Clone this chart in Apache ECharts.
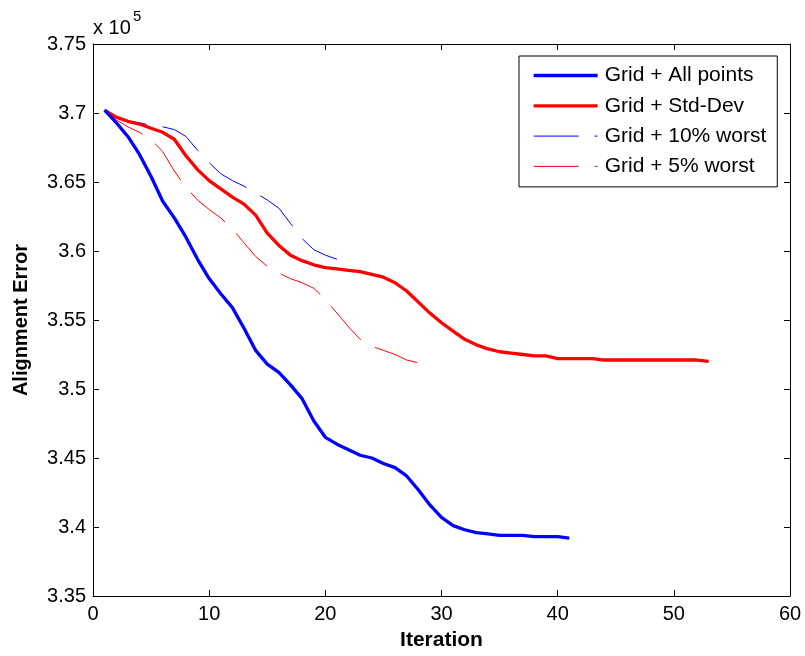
<!DOCTYPE html>
<html><head><meta charset="utf-8">
<script src="https://cdn.jsdelivr.net/npm/echarts@6/dist/echarts.min.js"></script>
<style>html,body{margin:0;padding:0;background:#fff}#c{width:805px;height:656px}</style>
</head><body><div id="c"></div>
<script>
// Values in units of 1e5 (as shown with the "x 10^5" multiplier)
const seriesNames = ['Grid + All points', 'Grid + Std-Dev', 'Grid + 10% worst', 'Grid + 5% worst'];
const xTicks = [0, 10, 20, 30, 40, 50, 60];
const yTicks = [3.35, 3.4, 3.45, 3.5, 3.55, 3.6, 3.65, 3.7, 3.75];

// Iterations start at 1
const allPoints = [3.702, 3.693, 3.683, 3.670, 3.654, 3.636, 3.624, 3.610, 3.594, 3.580,
  3.569, 3.559, 3.544, 3.528, 3.518, 3.512, 3.503, 3.493, 3.477, 3.465,
  3.460, 3.456, 3.452, 3.450, 3.446, 3.443, 3.437, 3.427, 3.416, 3.407,
  3.401, 3.398, 3.396, 3.395, 3.394, 3.394, 3.394, 3.393, 3.393, 3.393, 3.392];
const stdDev = [3.702, 3.697, 3.694, 3.692, 3.689, 3.686, 3.681, 3.669, 3.659, 3.651,
  3.645, 3.639, 3.634, 3.626, 3.613, 3.604, 3.597, 3.593, 3.590, 3.588,
  3.587, 3.586, 3.585, 3.583, 3.581, 3.577, 3.571, 3.563, 3.555, 3.548,
  3.542, 3.536, 3.532, 3.529, 3.527, 3.526, 3.525, 3.524, 3.524, 3.522,
  3.522, 3.522, 3.522, 3.521, 3.521, 3.521, 3.521, 3.521, 3.521, 3.521,
  3.521, 3.521, 3.520];
const worst10 = [3.702, 3.697, 3.694, 3.693, 3.691, 3.690, 3.688, 3.683, 3.673, 3.664,
  3.656, 3.651, 3.647, 3.642, 3.637, 3.631, 3.620, 3.609, 3.601, 3.597, 3.594];
const worst5 = [3.702, 3.695, 3.690, 3.686, 3.681, 3.672, 3.658, 3.646, 3.637, 3.630,
  3.624, 3.616, 3.606, 3.596, 3.589, 3.584, 3.580, 3.577, 3.573, 3.565,
  3.555, 3.545, 3.536, 3.531, 3.528, 3.525, 3.521, 3.519];

const FONT = '"Liberation Sans", Arial, Helvetica, sans-serif';
const toPairs = arr => arr.map((v, i) => [i + 1, v]);
const yFmt = v => String(parseFloat(Number(v).toFixed(2)));

const axisLine = { show: true, onZero: false, lineStyle: { color: '#000', width: 1 } };
const axisTick = { show: true, inside: true, length: 6, lineStyle: { color: '#000', width: 1 } };

const xBase = { type: 'value', min: xTicks[0], max: xTicks[xTicks.length - 1], interval: 10,
  axisLine, axisTick, splitLine: { show: false } };
const yBase = { type: 'value', min: yTicks[0], max: yTicks[yTicks.length - 1], interval: 0.05,
  axisLine, axisTick, splitLine: { show: false } };

const styles = [
  { color: '#0000ff', width: 3.3, type: 'solid' },
  { color: '#ff0000', width: 3.3, type: 'solid' },
  { color: '#0000ff', width: 1, type: [45, 16] },
  { color: '#ff0000', width: 1, type: [45, 16] }
];
const seriesData = [allPoints, stdDev, worst10, worst5];

const chart = echarts.init(document.getElementById('c'), null, { renderer: 'canvas' });
chart.setOption({
  animation: false,
  backgroundColor: '#fff',
  textStyle: { fontFamily: FONT },
  grid: { left: 93, right: 15, top: 44, bottom: 60, containLabel: false },
  xAxis: [
    Object.assign({}, xBase, {
      position: 'bottom',
      name: 'Iteration', nameLocation: 'middle', nameGap: 34,
      nameTextStyle: { fontFamily: FONT, fontSize: 21, fontWeight: 'bold', color: '#000' },
      axisLabel: { fontFamily: FONT, fontSize: 20, color: '#000', margin: 8 }
    }),
    Object.assign({}, xBase, { position: 'top', axisLabel: { show: false } })
  ],
  yAxis: [
    Object.assign({}, yBase, {
      position: 'left',
      name: 'Alignment Error', nameLocation: 'middle', nameGap: 62,
      nameTextStyle: { fontFamily: FONT, fontSize: 20, fontWeight: 'bold', color: '#000' },
      axisLabel: { fontFamily: FONT, fontSize: 20, color: '#000', margin: 7, formatter: yFmt }
    }),
    Object.assign({}, yBase, { position: 'right', axisLabel: { show: false } })
  ],
  legend: {
    data: seriesNames.map((n, i) => ({ name: n, lineStyle: { width: styles[i].width, type: styles[i].type, color: styles[i].color }, itemStyle: { opacity: 0 } })),
    orient: 'vertical', left: 519, top: 56,
    padding: [9, 11, 10, 13], itemWidth: 64, itemHeight: 14, itemGap: 9.3,
    backgroundColor: '#fff', borderColor: '#000', borderWidth: 1, borderRadius: 0,
    selectedMode: false,
    itemStyle: { opacity: 0 },
    textStyle: { fontFamily: FONT, fontSize: 21, color: '#000', lineHeight: 20, padding: [0, 0, 0, 2] }
  },
  graphic: [
    { type: 'text', x: 93, y: 28, style: { text: 'x 10', fontFamily: FONT, fontSize: 20, fill: '#000', align: 'left', verticalAlign: 'middle' } },
    { type: 'text', x: 133, y: 17, style: { text: '5', fontFamily: FONT, fontSize: 15, fill: '#000', align: 'left', verticalAlign: 'middle' } }
  ],
  series: seriesNames.map((n, i) => ({
    name: n, type: 'line', data: toPairs(seriesData[i]), symbol: 'none', showSymbol: false,
    lineStyle: styles[i], itemStyle: { color: styles[i].color }, z: i < 2 ? 4 - i : 2
  }))
});
</script></body></html>
